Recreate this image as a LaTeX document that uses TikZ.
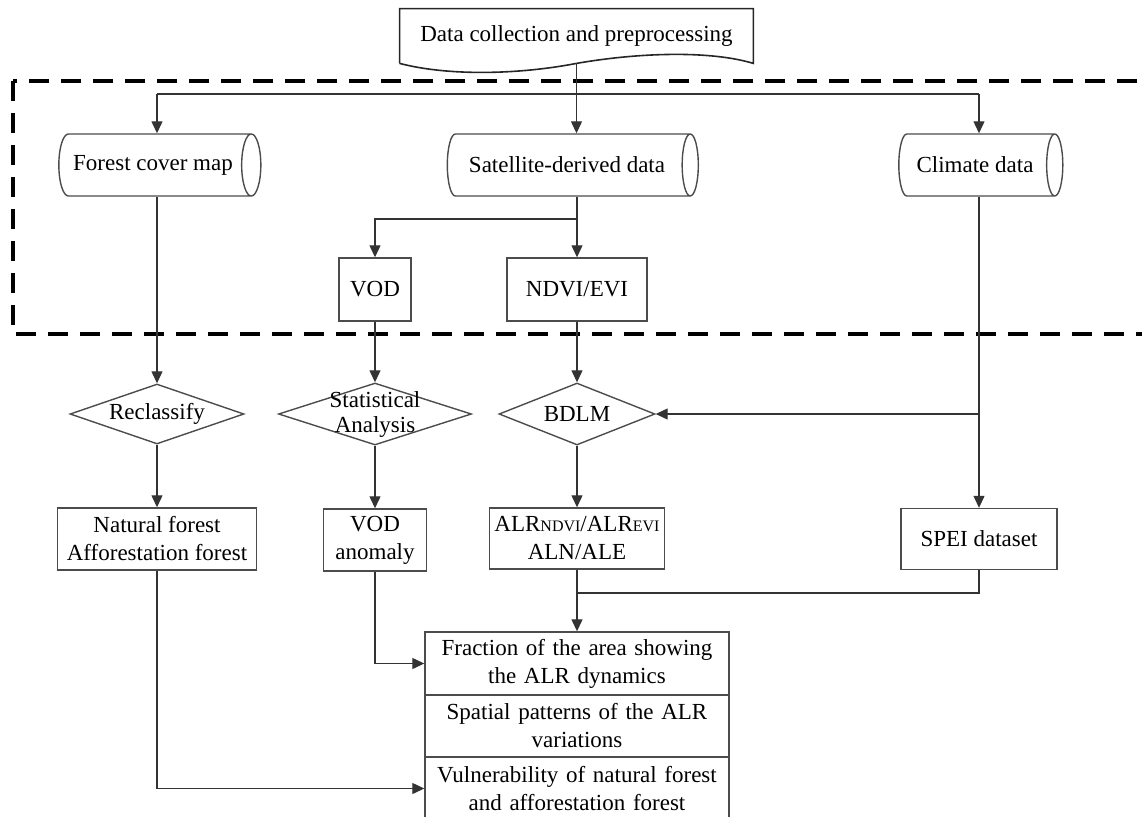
\documentclass[tikz,border=0pt]{standalone}
\usepackage{fontspec}
\setmainfont{Liberation Serif}
\usetikzlibrary{shapes.geometric,arrows.meta,positioning,calc}

% Stile
\tikzset{
    schrift/.style={font=\fontsize{11.5}{14}\selectfont},
    linie/.style={draw=black!80, line width=0.6pt},
    pfeil/.style={linie, -{Triangle[length=6pt,width=5.5pt]}},
    kasten/.style={schrift, draw=black!70, line width=0.7pt, align=center, inner sep=1pt},
    zylinder/.style={kasten, cylinder, aspect=0.8},
    raute/.style={draw=black!70, line width=0.7pt, diamond, inner sep=0pt},
}

\begin{document}
\begin{tikzpicture}[x=0.5pt, y=-0.5pt]
    \useasboundingbox (0,0) rectangle (1142,816);

    % Gestrichelter Rahmen (Datenteil)
    \draw[line width=1.6pt, dash pattern=on 10pt off 6pt] (13,81) rectangle (1170,334);

    % Dokument oben
    \node[schrift, minimum width=176.5pt, minimum height=27pt] (doc) at (576.5,36) {Data collection and preprocessing};
    \draw[draw=black!85, line width=0.8pt] (doc.south west) -- (doc.north west) -- (doc.north east) -- (doc.south east)
        .. controls +(-43,-13) and +(63,-11) .. (doc.south)
        .. controls +(-57,11) and +(50,13) .. (doc.south west);

    % Datenquellen (Zylinder liegen quer: height = Laenge)
    \node[zylinder, minimum height=101pt, minimum width=31pt] (forest) at (153,165) {Forest cover map};
    \node[zylinder, minimum height=125.5pt, minimum width=31pt] (sat) at (567,165) {Satellite-derived data};
    \node[zylinder, minimum height=82pt, minimum width=31pt] (climate) at (975,165) {Climate data};

    \node[kasten, minimum width=36pt, minimum height=31.5pt] (vod) at (375,289.5) {VOD};
    \node[kasten, minimum width=70pt, minimum height=31.5pt] (ndvi) at (577,289.5) {NDVI/EVI};

    % Verarbeitung
    \node[raute, minimum width=87pt, minimum height=30pt,
          label={[schrift]center:Reclassify}] (reclass) at (157,414) {};
    \node[raute, minimum width=96.5pt, minimum height=31pt,
          label={[schrift, align=center, font=\fontsize{11.5}{12.5}\selectfont]center:Statistical\\Analysis}] (stat) at (375,414) {};
    \node[raute, minimum width=78pt, minimum height=31pt,
          label={[schrift]center:BDLM}] (bdlm) at (577,414) {};

    % Zwischenergebnisse
    \node[kasten, minimum width=99.5pt, minimum height=31pt] (natural) at (157,539) {Natural forest\\Afforestation forest};
    \node[kasten, minimum width=51.5pt, minimum height=31pt] (vodan) at (375,540) {VOD\\anomaly};
    \node[kasten, minimum width=87.5pt, minimum height=30.5pt] (alr) at (577,538.5) {ALR{\footnotesize NDVI}/ALR{\footnotesize EVI}\\ALN/ALE};
    \node[kasten, minimum width=78pt, minimum height=30.5pt] (spei) at (979,539) {SPEI dataset};

    % Ergebnisse
    \node[kasten, text width=150pt, minimum height=31.5pt] (res1) at (577,663.5) {Fraction of the area showing\\the ALR dynamics};
    \node[kasten, text width=150pt, minimum height=31.5pt] (res2) at (577,726) {Spatial patterns of the ALR\\variations};
    \node[kasten, text width=150pt, minimum height=31.5pt] (res3) at (577,788.5) {Vulnerability of natural forest\\and afforestation forest};

    % Hilfspunkte
    \coordinate (busl) at (157,94);
    \coordinate (busr) at (979,94);
    \coordinate (satab) at (577,219);
    \coordinate (merge) at (577,593);

    % Verbindungen
    \draw[linie] (busl) -- (busr);
    \draw[pfeil] (doc.south) -- (doc.south |- sat.north);
    \foreach \n/\p in {forest/busl, climate/busr} {
        \draw[pfeil] (\p) -- (\p |- \n.north);
    }
    \draw[pfeil] (busl |- forest.south) -- (reclass.north);
    \draw[pfeil] (satab |- sat.south) -- (ndvi.north);
    \draw[pfeil] (satab) -| (vod.north);
    \draw[pfeil] (vod) -- (stat);
    \draw[pfeil] (ndvi) -- (bdlm);
    \draw[pfeil] (reclass) -- (natural);
    \draw[pfeil] (stat) -- (vodan);
    \draw[pfeil] (bdlm) -- (alr);
    \draw[pfeil] (busr |- climate.south) -- (spei.north);
    \draw[pfeil] (busr |- bdlm) -- (bdlm.east);
    \draw[pfeil] (alr) -- (res1);
    \draw[linie] (spei.south) |- (merge);
    \draw[pfeil] (vodan.south) |- (res1.west);
    \draw[pfeil] (natural.south) |- (res3.west);
\end{tikzpicture}
\end{document}
